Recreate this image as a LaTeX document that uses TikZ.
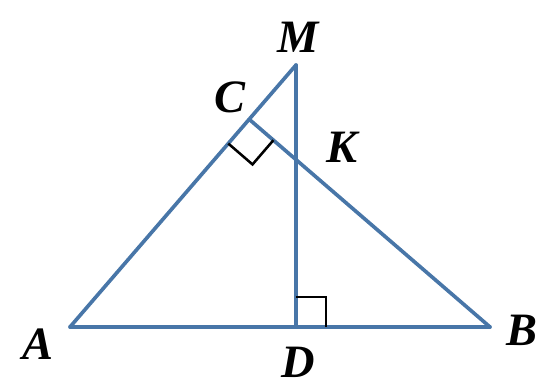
\documentclass[tikz,border=0pt]{standalone}
\usepackage{fontspec}
\setmainfont{Liberation Serif}
\usetikzlibrary{calc, positioning}

\begin{document}
\begin{tikzpicture}[
  x=0.025cm, y=-0.025cm,
  side/.style={line width=2.6pt, color=seg, line cap=round, line join=round},
  rightmark/.style={line width=1.8pt, color=black},
  lbl/.style={font=\fontsize{33}{35}\selectfont\bfseries\itshape, inner sep=0pt}
]
\definecolor{seg}{RGB}{72,118,168}
\useasboundingbox (0,0) rectangle (552,386);

% Points
\coordinate (A) at (70,327);
\coordinate (B) at (490,327);
\coordinate (M) at (296,65);
\coordinate (D) at (296,327);
\coordinate (C) at ($(A)!(B)!(M)$);
\coordinate (K) at (intersection of B--C and M--D);

% Segments
\draw[side] (A) -- (B);
\draw[side] (A) -- (M);
\draw[side] (M) -- (D);
\draw[side] (B) -- (C);

% Right angles
\coordinate (ca) at ($(C)!0.8cm!(A)$);
\coordinate (cb) at ($(C)!0.8cm!(B)$);
\draw[rightmark] (ca) -- ($(ca)+(cb)-(C)$) -- (cb);
\coordinate (dm) at ($(D)!0.75cm!(M)$);
\coordinate (db) at ($(D)!0.75cm!(B)$);
\draw[rightmark] (dm) -- ($(dm)+(db)-(D)$) -- (db);

% Labels
\node[lbl] (lM) at (298,37) {M};
\node[lbl] (lC) at (230,97) {C};
\node[lbl] (lK) at (342,147) {K};
\node[lbl] (lA) at (38,344) {A};
\node[lbl] (lB) at (522,330) {B};
\node[lbl] (lD) at (298,362) {D};

\end{tikzpicture}
\end{document}
